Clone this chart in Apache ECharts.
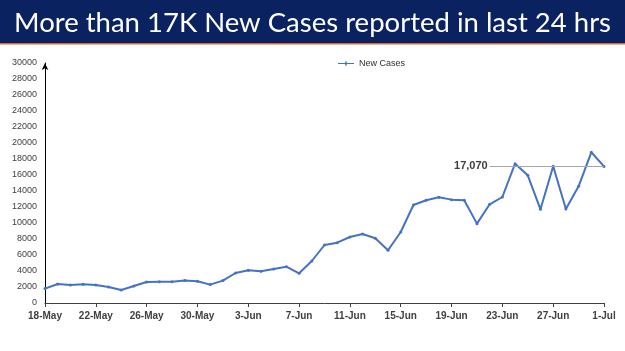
<!DOCTYPE html>
<html><head><meta charset="utf-8">
<script src="https://cdn.jsdelivr.net/npm/echarts@6/dist/echarts.min.js"></script>
<style>html,body{margin:0;padding:0;background:#fff}#c{width:625px;height:351px}</style>
</head><body><div id="c"></div>
<script>
const titleText = 'More than 17K New Cases reported in last 24 hrs';
const seriesName = 'New Cases';
const dates = ['18-May','19-May','20-May','21-May','22-May','23-May','24-May','25-May','26-May','27-May','28-May','29-May','30-May','31-May',
  '1-Jun','2-Jun','3-Jun','4-Jun','5-Jun','6-Jun','7-Jun','8-Jun','9-Jun','10-Jun','11-Jun','12-Jun','13-Jun','14-Jun','15-Jun',
  '16-Jun','17-Jun','18-Jun','19-Jun','20-Jun','21-Jun','22-Jun','23-Jun','24-Jun','25-Jun','26-Jun','27-Jun','28-Jun','29-Jun','30-Jun','1-Jul'];
const newCases = [1800,2375,2250,2340,2250,2000,1625,2125,2625,2670,2670,2800,2730,2300,
  2800,3750,4090,3960,4250,4540,3710,5250,7250,7540,8250,8625,8090,6590,8875,
  12250,12840,13210,12920,12840,9920,12340,13250,17420,15960,11710,17090,11750,14590,18840,17070];
const latestValue = 17070;
const refLineStart = 35.4; // category index where reference line begins
const yTicks = {min:0, max:30000, interval:2000};

const chart = echarts.init(document.getElementById('c'), null, {renderer:'canvas'});
chart.setOption({
  animation:false,
  graphic:[
    {type:'rect', shape:{x:0,y:0,width:625,height:43}, style:{fill:'#0b2260'}, z:0},
    {type:'rect', shape:{x:0,y:43,width:625,height:1.5}, style:{fill:'#d9673a'}, z:0}
  ],
  title:{text:titleText, left:'center', top:4,
    textStyle:{color:'#fff', fontFamily:'Lato', fontWeight:'normal', fontSize:27.5}},
  legend:{top:54, left:333, itemWidth:16, itemHeight:6, itemGap:4,
    textStyle:{fontSize:9, color:'#303030', fontFamily:'Liberation Sans'},
    data:[{name:seriesName, icon:'path://M0,2.5L7,2.5L8,0L9,2.5L16,2.5L16,3.5L9,3.5L8,6L7,3.5L0,3.5Z'}]},
  grid:{left:45, right:21, top:63, bottom:48, containLabel:false},
  xAxis:{type:'category', data:dates, boundaryGap:false,
    axisLine:{lineStyle:{color:'#404040', width:1}},
    axisTick:{show:true, interval:3, length:4, lineStyle:{color:'#404040'}},
    axisLabel:{interval:3, margin:8, fontSize:10, fontWeight:'bold', color:'#404040', fontFamily:'Liberation Sans'},
    splitLine:{show:false}},
  yAxis:{type:'value', min:yTicks.min, max:yTicks.max, interval:yTicks.interval,
    axisLine:{show:true, lineStyle:{color:'#000', width:1}, symbol:['none','arrow'], symbolSize:[5,7], symbolOffset:[0,0]},
    axisTick:{show:false},
    axisLabel:{fontSize:9, color:'#404040', margin:8, fontFamily:'Liberation Sans', formatter:function(v){return String(v);}},
    splitLine:{show:false}},
  series:[{
    name:seriesName, type:'line', data:newCases,
    symbol:'circle', symbolSize:3, showSymbol:true,
    lineStyle:{color:'#4472c4', width:2},
    itemStyle:{color:'#4472c4'},
    markLine:{silent:true, symbol:['none','none'],
      lineStyle:{color:'#a6a6a6', width:1, type:'solid'},
      label:{show:true, position:'start', formatter:'17,070', fontSize:11, fontWeight:'bold', color:'#404040', distance:2, fontFamily:'Liberation Sans'},
      data:[[{coord:[refLineStart, latestValue]},{coord:[dates.length-1, latestValue]}]]}
  }]
});
</script></body></html>
